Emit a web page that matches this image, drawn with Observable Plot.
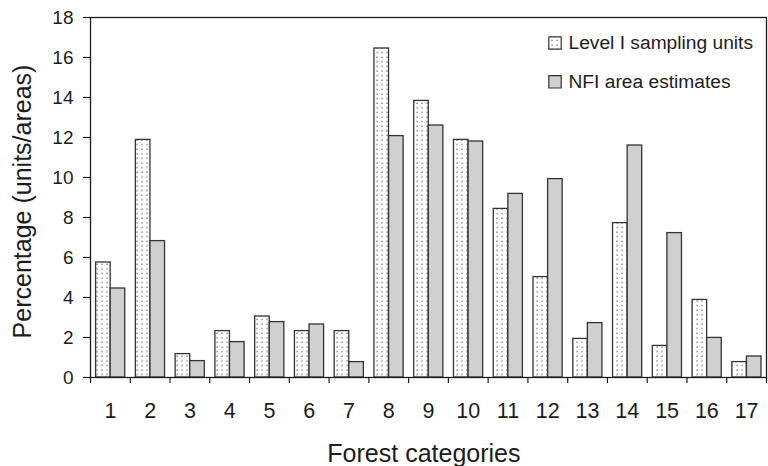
<!DOCTYPE html>
<html>
<head>
<meta charset="utf-8">
<script src="https://cdn.jsdelivr.net/npm/d3@7"></script>
<script src="https://cdn.jsdelivr.net/npm/@observablehq/plot@0.6"></script>
<style>
  html, body { margin: 0; padding: 0; background: #fff; }
  svg { font-family: "Liberation Sans", Arial, Helvetica, sans-serif; }
</style>
</head>
<body>
<div id="chart"></div>
<script>
const categories = [1, 2, 3, 4, 5, 6, 7, 8, 9, 10, 11, 12, 13, 14, 15, 16, 17];
const levelI = [5.75, 11.88, 1.17, 2.32, 3.05, 2.32, 2.32, 16.45, 13.83, 11.88, 8.43, 5.02, 1.93, 7.72, 1.58, 3.88, 0.77];
const nfiArea = [4.45, 6.82, 0.82, 1.77, 2.77, 2.65, 0.77, 12.07, 12.6, 11.8, 9.18, 9.92, 2.72, 11.6, 7.22, 1.98, 1.05];
const seriesNames = ["Level I sampling units", "NFI area estimates"];
const yTicks = [0, 2, 4, 6, 8, 10, 12, 14, 16, 18];
const yTitle = "Percentage (units/areas)";
const xTitle = "Forest categories";

const levelData = categories.map((c, i) => ({cat: c, value: levelI[i]}));
const nfiData = categories.map((c, i) => ({cat: c, value: nfiArea[i]}));
const boundaries = [categories[0] - 0.5, ...categories.map(c => c + 0.5)];

const ink = "#1c1c1c";
const barStroke = "#333";
const grayFill = "#d0d0d0";

const chart = Plot.plot({
  width: 768,
  height: 466,
  marginLeft: 90,
  marginRight: 2,
  marginTop: 17,
  marginBottom: 89,
  style: {fontFamily: '"Liberation Sans", Arial, Helvetica, sans-serif', color: ink, background: "#fff"},
  x: {type: "linear", domain: [0.5, 17.5]},
  y: {domain: [0, 18]},
  marks: [
    Plot.rectY(levelData, {
      x1: d => d.cat - 0.5, x2: d => d.cat + 0.5, y: "value",
      insetLeft: 5.6, insetRight: 19.6,
      fill: "url(#dots)", stroke: barStroke, strokeWidth: 1.3
    }),
    Plot.rectY(nfiData, {
      x1: d => d.cat - 0.5, x2: d => d.cat + 0.5, y: "value",
      insetLeft: 20.2, insetRight: 5,
      fill: grayFill, stroke: barStroke, strokeWidth: 1.3
    }),
    Plot.frame({stroke: ink, strokeWidth: 1.3}),
    Plot.axisY(yTicks, {tickSize: 7, tickPadding: 10, fontSize: 19, label: null, strokeWidth: 1.2}),
    Plot.axisX(categories, {tickSize: 0, tickPadding: 25.5, fontSize: 21.5, label: null}),
    Plot.axisX(boundaries, {tickSize: 6, tickFormat: () => "", label: null, strokeWidth: 1.2}),
    Plot.text([yTitle], {frameAnchor: "left", dx: -68, dy: 4, rotate: -90, fontSize: 25, textAnchor: "middle", lineAnchor: "middle", fill: ink}),
    Plot.text([xTitle], {frameAnchor: "bottom", dx: -4.6, dy: 76, fontSize: 25, textAnchor: "middle", lineAnchor: "middle", fill: ink}),
    Plot.dot([seriesNames[0]], {frameAnchor: "top-right", dx: -211.5, dy: 25.5, symbol: "square", r: 7, fill: "url(#dots)", stroke: barStroke, strokeWidth: 1.2}),
    Plot.dot([seriesNames[1]], {frameAnchor: "top-right", dx: -211.5, dy: 64.3, symbol: "square", r: 7, fill: grayFill, stroke: barStroke, strokeWidth: 1.2}),
    Plot.text([seriesNames[0]], {frameAnchor: "top-right", dx: -198, dy: 25.5, text: d => d, textAnchor: "start", lineAnchor: "middle", fontSize: 19.2, fill: ink}),
    Plot.text([seriesNames[1]], {frameAnchor: "top-right", dx: -198, dy: 64.3, text: d => d, textAnchor: "start", lineAnchor: "middle", fontSize: 19.2, fill: ink})
  ]
});

// dotted fill pattern
const ns = "http://www.w3.org/2000/svg";
const defs = document.createElementNS(ns, "defs");
const pat = document.createElementNS(ns, "pattern");
pat.setAttribute("id", "dots");
pat.setAttribute("patternUnits", "userSpaceOnUse");
pat.setAttribute("width", "5");
pat.setAttribute("height", "4.6");
const bg = document.createElementNS(ns, "rect");
bg.setAttribute("width", "5"); bg.setAttribute("height", "4.6"); bg.setAttribute("fill", "#fff");
const dot = document.createElementNS(ns, "rect");
dot.setAttribute("x", "1.5"); dot.setAttribute("y", "1.5");
dot.setAttribute("width", "1.1"); dot.setAttribute("height", "1.1"); dot.setAttribute("fill", "#333");
pat.appendChild(bg); pat.appendChild(dot);
defs.appendChild(pat);
chart.insertBefore(defs, chart.firstChild);

document.getElementById("chart").appendChild(chart);
</script>
</body>
</html>
